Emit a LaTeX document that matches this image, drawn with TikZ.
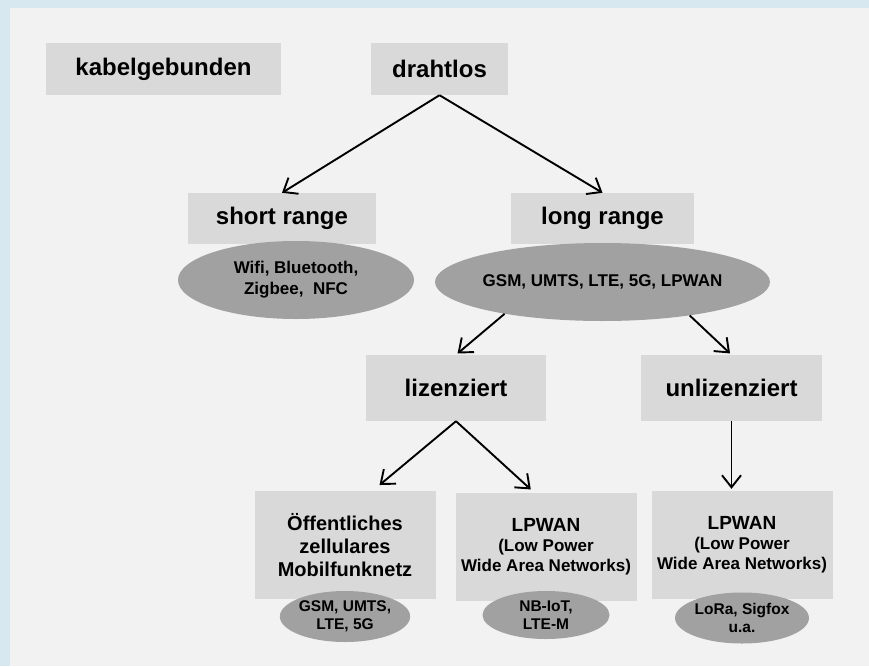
\documentclass[tikz,border=0pt]{standalone}
\usepackage{fontspec}
\setmainfont{Liberation Sans}
\usepackage{tikz}
\usetikzlibrary{positioning, calc, arrows.meta, shapes.geometric}
\definecolor{framebg}{HTML}{D8E8F1}
\definecolor{panelbg}{HTML}{F2F2F2}
\definecolor{boxgray}{HTML}{D9D9D9}
\definecolor{ovalgray}{HTML}{A1A1A1}
\tikzstyle{arrow} = [line width=1.9pt,-{Straight Barb[length=12pt,width=19pt]}]
\tikzstyle{hdr} = [fill=boxgray,inner sep=0pt,minimum height=52pt,font=\fontsize{24}{28}\selectfont\bfseries]
\tikzstyle{tall} = [fill=boxgray,inner sep=0pt,minimum width=181pt,minimum height=108pt,align=center,font=\fontsize{20}{23}\selectfont\bfseries]
\tikzstyle{oval} = [ellipse,fill=ovalgray,inner sep=0pt,align=center,font=\fontsize{17}{21}\selectfont\bfseries]

\begin{document}
\begin{tikzpicture}[x=1pt,y=-1pt,node distance=2cm,on grid]
	\fill[framebg] (0,0) rectangle (869,666);
	\fill[panelbg] (10,8) rectangle (869,666);
	\useasboundingbox (0,0) rectangle (869,666);
	\node[hdr,minimum width=137pt] (drahtlos) at (439.5,69) {drahtlos};
	\node[hdr,minimum width=235pt][left=276pt of drahtlos] (kabel) {kabelgebunden};
	\node[hdr,minimum width=188pt,minimum height=51pt][below left=149.5pt and 157.5pt of drahtlos] (short) {short range};
	\node[hdr,minimum width=183pt,minimum height=51pt][below right=149.5pt and 163pt of drahtlos] (long) {long range};
	\node[oval,minimum width=236pt,minimum height=78pt][below right=61.5pt and 14pt of short] (shortell) {Wifi, Bluetooth,\\Zigbee,\ \ NFC};
	\node[oval,minimum width=335pt,minimum height=78pt,inner xsep=-4pt][below=63.5pt of long] (longell) {GSM, UMTS, LTE, 5G, LPWAN};
	\node[hdr,minimum width=180pt,minimum height=66pt][below left=169.5pt and 146.5pt of long] (liz) {lizenziert};
	\node[hdr,minimum width=181pt,minimum height=66pt][below right=169.5pt and 129pt of long] (unliz) {unlizenziert};
	\node[tall][below left=157pt and 111pt of liz] (oeff) {Öffentliches\\zellulares\\Mobilfunknetz};
	\node[tall,font=\fontsize{17}{20}\selectfont\bfseries][below right=159pt and 90pt of liz] (lpwan_1) {{\fontsize{19}{23}\selectfont LPWAN}\\(Low Power\\Wide Area Networks)};
	\node[tall,font=\fontsize{17}{20}\selectfont\bfseries][below right=157pt and 10.5pt of unliz] (lpwan_2) {{\fontsize{19}{23}\selectfont LPWAN}\\(Low Power\\Wide Area Networks)};
	\node[oval,minimum width=127pt,minimum height=51pt,font=\fontsize{15.5}{18}\selectfont\bfseries][below=71.5pt of oeff] (gsmell) {GSM, UMTS,\\LTE, 5G};
	\node[oval,minimum width=127pt,minimum height=48pt,font=\fontsize{15.5}{18}\selectfont\bfseries][below=68pt of lpwan_1] (nbell) {NB-IoT,\\LTE-M};
	\node[oval,minimum width=128pt,minimum height=51pt,font=\fontsize{15.5}{18}\selectfont\bfseries][below=73pt of lpwan_2] (loraell) {LoRa, Sigfox\\u.a.};
	\draw[arrow] (drahtlos.south) -- (short.north);
	\draw[arrow] (drahtlos.south) -- (long.north);
	\draw[arrow,shorten >=2pt] (longell.198) -- (liz.north);
	\draw[arrow,shorten >=2pt] (longell.339) -- (unliz.north);
	\draw[arrow,shorten >=9pt] (liz.south) -- (oeff.63);
	\draw[arrow,shorten >=5pt] (liz.south) -- (lpwan_1.102);
	\draw[arrow,shorten >=2pt] (unliz.south) -- (unliz.south |- lpwan_2.north);
\end{tikzpicture}
\end{document}
